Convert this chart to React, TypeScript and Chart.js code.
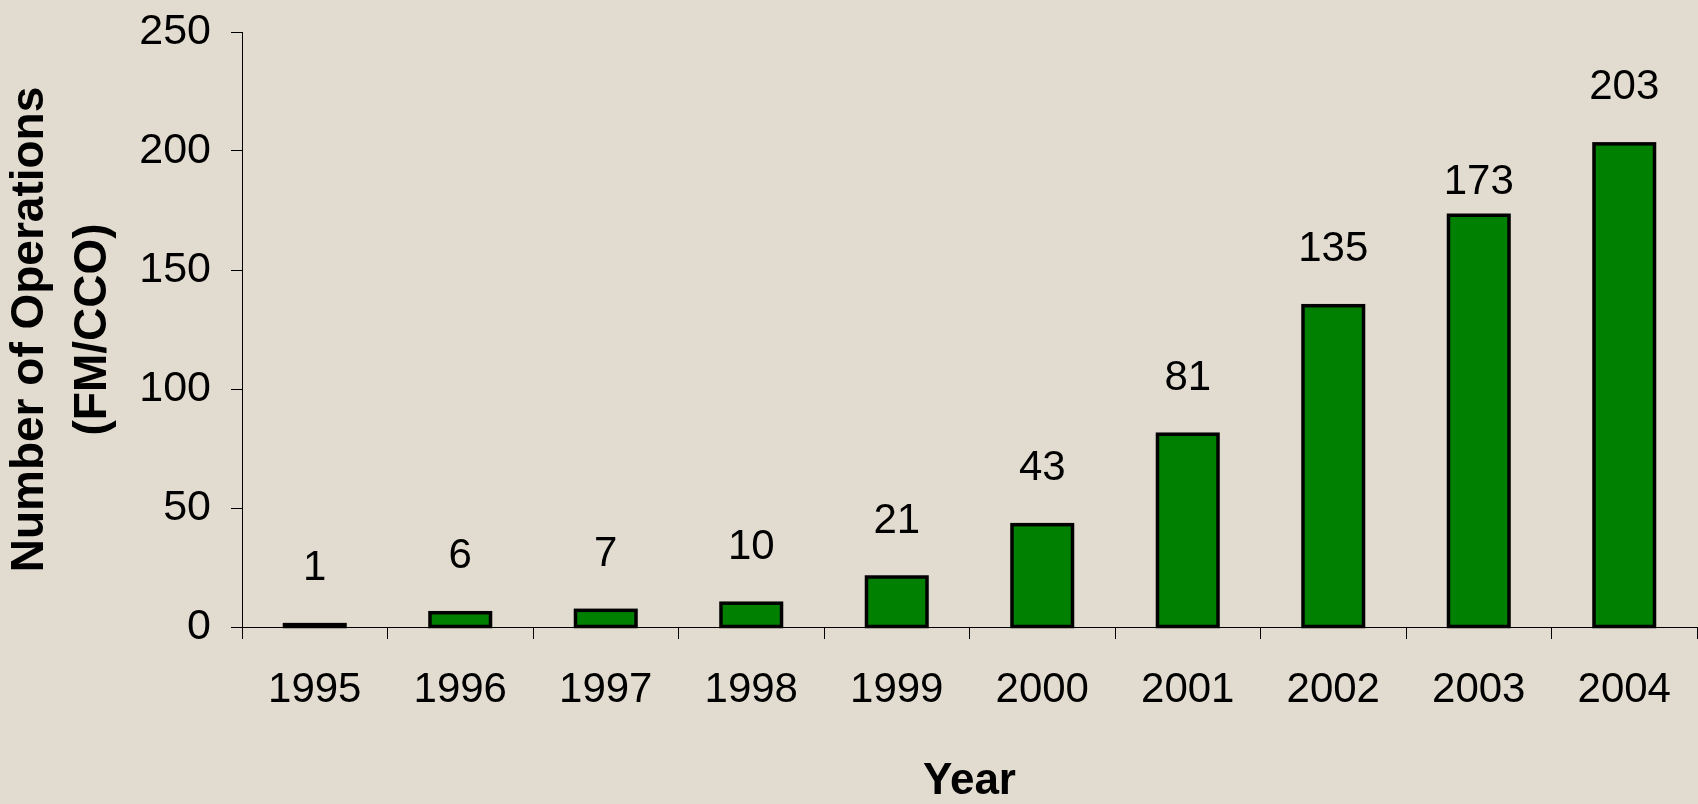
import React, { useEffect, useRef } from "react";
import { Chart, registerables } from "chart.js";

Chart.register(...registerables);

const years = ["1995", "1996", "1997", "1998", "1999", "2000", "2001", "2002", "2003", "2004"];
const operations = [1, 6, 7, 10, 21, 43, 81, 135, 173, 203];
const yTickMin = 0;
const yTickMax = 250;
const yTickStep = 50;
const yTitleLines = ["Number of Operations", "(FM/CCO)"];
const xTitle = "Year";

const FONT = "'Liberation Sans', Arial, Helvetica, sans-serif";
const BG = "#E2DBCF";

// Draws a centred outline around every bar (like the original's stroke),
// so very short bars still show as a thick black sliver.
const barOutlinePlugin = {
  id: "barOutline",
  afterDatasetsDraw(chart: any, _args: any, opts: any) {
    const { ctx } = chart;
    const meta = chart.getDatasetMeta(0);
    ctx.save();
    ctx.strokeStyle = opts.color;
    ctx.lineWidth = opts.width;
    ctx.lineJoin = "miter";
    meta.data.forEach((bar: any) => {
      const { x, y, base, width } = bar.getProps(["x", "y", "base", "width"], true);
      ctx.strokeRect(x - width / 2, y, width, base - y);
    });
    ctx.restore();
  },
};

const valueLabelPlugin = {
  id: "valueLabels",
  afterDatasetsDraw(chart: any, _args: any, opts: any) {
    const { ctx } = chart;
    const meta = chart.getDatasetMeta(0);
    const ds = chart.data.datasets[0];
    ctx.save();
    ctx.font = `${opts.size}px ${FONT}`;
    ctx.fillStyle = "#000";
    ctx.textAlign = "center";
    ctx.textBaseline = "middle";
    meta.data.forEach((bar: any, i: number) => {
      const lift = opts.overrides && opts.overrides[i] != null ? opts.overrides[i] : opts.lift;
      ctx.fillText(String(ds.data[i]), bar.x, bar.y - lift);
    });
    ctx.restore();
  },
};

const bgPlugin = {
  id: "bgFill",
  beforeDraw(chart: any) {
    const { ctx, width, height } = chart;
    ctx.save();
    ctx.fillStyle = BG;
    ctx.fillRect(0, 0, width, height);
    ctx.restore();
  },
};

export default function App() {
  const canvasRef = useRef<HTMLCanvasElement | null>(null);

  useEffect(() => {
    document.body.style.margin = "0";
    document.body.style.background = BG;
    const canvas = canvasRef.current;
    if (!canvas) return;
    const chart = new Chart(canvas, {
      type: "bar",
      data: {
        labels: years,
        datasets: [
          {
            data: operations,
            backgroundColor: "#008000",
            borderWidth: 0,
            categoryPercentage: 1,
            barPercentage: 0.416,
          },
        ],
      },
      plugins: [bgPlugin, barOutlinePlugin, valueLabelPlugin],
      options: {
        responsive: false,
        animation: false,
        devicePixelRatio: 1,
        layout: { padding: { top: 32, right: 1, left: 0, bottom: 0 } },
        plugins: {
          legend: { display: false },
          tooltip: { enabled: false },
          barOutline: { color: "#000", width: 3.5 },
          valueLabels: { size: 42, lift: 56, overrides: { 8: 33 } },
        } as any,
        scales: {
          x: {
            offset: true,
            grid: {
              offset: true,
              drawOnChartArea: false,
              drawTicks: true,
              tickLength: 12,
              color: "#000",
              lineWidth: 1,
            },
            border: { display: true, color: "#000", width: 1 },
            ticks: {
              color: "#000",
              font: { family: FONT, size: 42 },
              padding: 26,
              autoSkip: false,
              maxRotation: 0,
              minRotation: 0,
            },
            title: {
              display: true,
              text: xTitle,
              color: "#000",
              font: { family: FONT, size: 44, weight: "bold", lineHeight: 1.0 },
              padding: { top: 0, bottom: 0 },
            },
            afterFit: (scale: any) => {
              scale.height = 177;
              scale.paddingLeft = 0;
              scale.paddingRight = 0;
            },
          },
          y: {
            min: yTickMin,
            max: yTickMax,
            grid: {
              drawOnChartArea: false,
              drawTicks: true,
              tickLength: 11,
              color: "#000",
              lineWidth: 1,
            },
            border: { display: true, color: "#000", width: 1 },
            ticks: {
              stepSize: yTickStep,
              color: "#000",
              font: { family: FONT, size: 43 },
              padding: 20,
            },
            title: {
              display: true,
              text: yTitleLines,
              color: "#000",
              font: { family: FONT, size: 46, weight: "bold", lineHeight: 1.37 },
              padding: { top: -1, bottom: 0 },
            },
            afterFit: (scale: any) => {
              scale.width = 242;
              scale.paddingTop = 0;
              scale.paddingBottom = 0;
            },
          },
        },
      } as any,
    });
    return () => chart.destroy();
  }, []);

  return (
    <div style={{ width: 1698, height: 804, background: BG }}>
      <canvas ref={canvasRef} width={1698} height={804} style={{ display: "block" }} />
    </div>
  );
}
